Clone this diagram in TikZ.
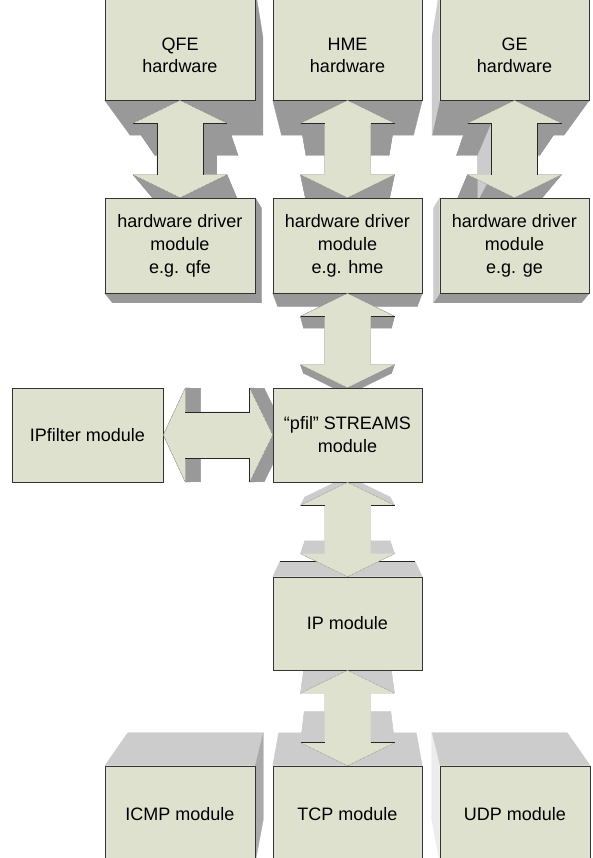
\documentclass[tikz,border=0pt]{standalone}
\usepackage{fontspec}
\setmainfont{Liberation Sans}
\usetikzlibrary{calc}
\definecolor{boxc}{RGB}{222,225,206}
\definecolor{dkg}{RGB}{153,153,153}
\definecolor{ltg}{RGB}{204,204,204}
\definecolor{mdg}{RGB}{170,170,170}
\definecolor{vlg}{RGB}{236,236,236}
\pgfdeclarelayer{shade}
\pgfsetlayers{shade,main}
% extrusion of edges towards a vanishing point #1 with ratio #2
\newcommand{\extr}[4]{%
  \foreach \pa/\pb in {#4}{%
    \fill[#3] (\pa) -- (\pb) -- ($(#1)!#2!(\pb)$) -- ($(#1)!#2!(\pa)$) -- cycle;
  }%
}
\newcommand{\extrA}[4]{\extr{#2}{#3}{#4}{#1a/#1b,#1b/#1c,#1c/#1d,#1d/#1e,#1e/#1f,#1f/#1g,#1g/#1h,#1h/#1i,#1i/#1j,#1j/#1a}}
% vertical double arrow points
\newcommand{\vpts}[3]{%
  \coordinate (#1a) at (#2);
  \coordinate (#1f) at (#3);
  \coordinate (#1b) at ($(#1a)+(47,23)$);
  \coordinate (#1c) at ($(#1a)+(23,23)$);
  \coordinate (#1d) at ($(#1f)+(23,-23)$);
  \coordinate (#1e) at ($(#1f)+(47,-23)$);
  \coordinate (#1g) at ($(#1f)+(-47,-23)$);
  \coordinate (#1h) at ($(#1f)+(-23,-23)$);
  \coordinate (#1i) at ($(#1a)+(-23,23)$);
  \coordinate (#1j) at ($(#1a)+(-47,23)$);
}
% horizontal double arrow points
\newcommand{\hpts}[3]{%
  \coordinate (#1a) at (#2);
  \coordinate (#1f) at (#3);
  \coordinate (#1b) at ($(#1a)+(22,-47)$);
  \coordinate (#1c) at ($(#1a)+(22,-23)$);
  \coordinate (#1d) at ($(#1f)+(-23,-23)$);
  \coordinate (#1e) at ($(#1f)+(-23,-47)$);
  \coordinate (#1g) at ($(#1f)+(-23,47)$);
  \coordinate (#1h) at ($(#1f)+(-23,23)$);
  \coordinate (#1i) at ($(#1a)+(22,23)$);
  \coordinate (#1j) at ($(#1a)+(22,47)$);
}
\newcommand{\afront}[1]{%
  \fill[boxc] (#1a)--(#1b)--(#1c)--(#1d)--(#1e)--(#1f)--(#1g)--(#1h)--(#1i)--(#1j)--cycle;
  \draw[dline] (#1j)--(#1a)--(#1b) (#1e)--(#1f)--(#1g);
}
\begin{document}
\begin{tikzpicture}[x=1pt,y=-1pt,
  box/.style={rectangle, fill=boxc, draw=black!80, line width=0.6pt, inner sep=0pt,
    align=center, font=\fontsize{18}{23}\selectfont, minimum width=149pt, minimum height=94pt},
  txt/.style={align=center, inner sep=0pt, font=\fontsize{18}{22}\selectfont},
  sdk/.style={fill=dkg, draw=dkg, line width=0.3pt, line join=round},
  slt/.style={fill=ltg, draw=ltg, line width=0.3pt, line join=round},
  smd/.style={fill=mdg, draw=mdg, line width=0.3pt, line join=round},
  svl/.style={fill=vlg, draw=vlg, line width=0.3pt, line join=round},
  bline/.style={draw=black!85, line width=0.7pt},
  dline/.style={draw=black!55, line width=0.5pt, densely dotted}]
\useasboundingbox (0,0) rectangle (593,858);

% boxes
\node[box, minimum width=150pt, minimum height=110pt] (qfe) at (180,45) {};
\node[box, minimum height=110pt] (hme) at (347.5,45) {};
\node[box, minimum height=110pt] (ge) at (514.5,45) {};
\node[txt] (qfet) at (180,55) {QFE\\hardware};
\node[txt] (hmet) at (347.5,55) {HME\\hardware};
\node[txt] (get) at (514.5,55) {GE\\hardware};
\node[box, minimum width=150pt, minimum height=95pt] (qfed) at (180,245.5) {hardware driver\\module\\e.g. qfe};
\node[box, minimum height=95pt] (hmed) at (347.5,245.5) {hardware driver\\module\\e.g. hme};
\node[box, minimum height=95pt] (ged) at (514.5,245.5) {hardware driver\\module\\e.g. ge};
\node[box, minimum width=151pt] (ipf) at (87.5,435) {IPfilter module};
\node[box] (pfil) at (347.5,435) {“pfil” STREAMS\\module};
\node[box, minimum height=93pt] (ip) at (347.5,623.5) {IP module};
\node[box, minimum width=150pt, minimum height=96pt] (icmp) at (180,814) {ICMP module};
\node[box, minimum height=96pt] (tcp) at (347.5,814) {TCP module};
\node[box, minimum width=150pt, minimum height=96pt] (udp) at (515,814) {UDP module};

% arrow outlines
\vpts{qa}{qfe.south}{qfed.north}
\vpts{ha}{hme.south}{hmed.north}
\vpts{ga}{ge.south}{ged.north}
\vpts{pa}{hmed.south}{pfil.north}
\vpts{ia}{pfil.south}{ip.north}
\vpts{ta}{ip.south}{tcp.north}
\hpts{fa}{ipf.east}{pfil.west}

% vanishing points
\coordinate (Vq) at (321,398);
\coordinate (Vh) at (347.5,398);
\coordinate (Vg) at (374,398);
\coordinate (Vqd) at (880,1245.5);
\coordinate (Vhd) at (347.5,494);
\coordinate (Vgd) at (-185.5,1245.5);
\coordinate (Vf) at (1718,435);
\coordinate (Vi) at (347.5,417);
\coordinate (Vt) at (347.5,354);
\coordinate (Vc) at (335,436);
\coordinate (Vu) at (360,436);

\begin{pgfonlayer}{shade}
  \extr{Vq}{0.883}{sdk}{qfe.south west/qfe.south east,qfe.south east/qfe.north east}
  \extrA{qa}{Vq}{0.883}{sdk}
  \extr{Vqd}{0.99}{sdk}{qfed.south west/qfed.south east,qfed.south east/qfed.north east}
  \extr{Vh}{0.883}{sdk}{hme.south west/hme.south east}
  \extrA{ha}{Vh}{0.883}{sdk}
  \extr{Vhd}{0.933}{sdk}{hmed.south west/hmed.south east}
  \extrA{pa}{Vhd}{0.933}{sdk}
  \extr{Vg}{0.883}{sdk}{ge.south west/ge.south east}
  \extr{Vg}{0.883}{slt}{ge.north west/ge.south west}
  \extrA{ga}{Vg}{0.883}{sdk}
  \extr{Vg}{0.883}{slt}{gah/gai}
  \extr{Vgd}{0.99}{sdk}{ged.south west/ged.south east}
  \extr{Vgd}{0.99}{slt}{ged.north west/ged.south west}
  \extrA{fa}{Vf}{0.99}{sdk}
  \extrA{ia}{Vi}{0.906}{slt}
  \extr{Vi}{0.906}{slt}{ip.north west/ip.north east}
  \draw[bline] ($(Vi)!0.906!(ip.north west)$) -- ($(Vi)!0.906!(ip.north east)$);
  \extrA{ta}{Vt}{0.92}{slt}
  \extr{Vt}{0.92}{slt}{tcp.north west/tcp.north east}
  \extr{Vc}{0.9}{slt}{icmp.north west/icmp.north east}
  \extr{Vc}{0.9}{smd}{icmp.north east/icmp.south east}
  \extr{Vu}{0.9}{slt}{udp.north west/udp.north east}
  \extr{Vu}{0.9}{svl}{udp.south west/udp.north west}
\end{pgfonlayer}

% arrow front faces
\afront{qa}
\draw[bline] (qab)--(qac)--(qad) (qaj)--(qai)--(qah);
\afront{ha}
\draw[bline] (hab)--(hac) (haj)--(hai);
\afront{ga}
\draw[bline] (gab)--(gac)--(gad) (gaj)--(gai)--(gah);
\afront{pa}
\draw[bline] (pab)--(pac) (paj)--(pai);
\afront{ia}
\draw[bline] (iab)--(iac) (iaj)--(iai);
\afront{ta}
\draw[bline] (tad)--(tae) (tag)--(tah);
\afront{fa}
\draw[bline] (fac)--(fad)--(fae) (fai)--(fah)--(fag);
\end{tikzpicture}
\end{document}
